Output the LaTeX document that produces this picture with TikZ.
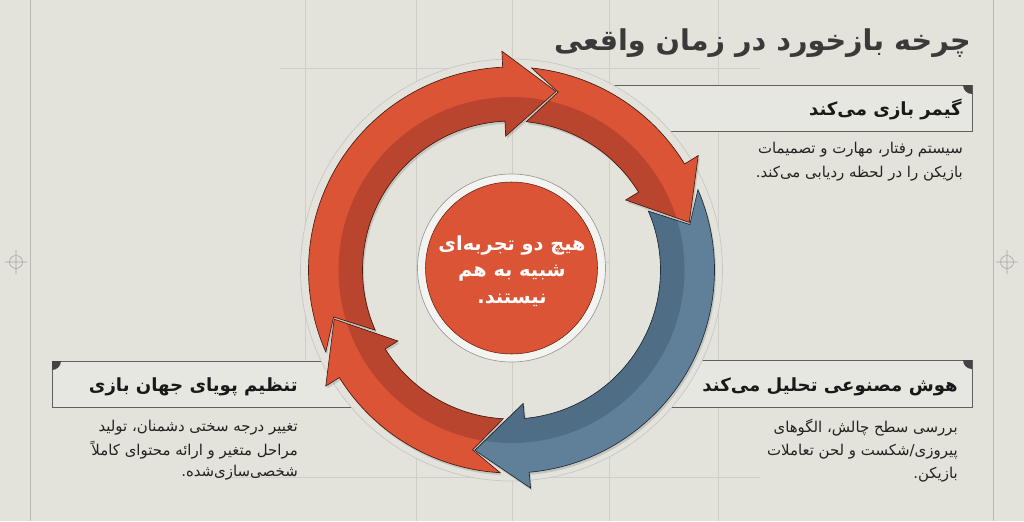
\documentclass[tikz,border=0pt]{standalone}
\usepackage{fontspec}
\newfontfamily\fa[Script=Arabic]{DejaVu Sans}
\TeXXeTstate=1
\definecolor{bg}{HTML}{E3E3DC}
\definecolor{boxfill}{HTML}{E7E7E1}
\definecolor{gridc}{HTML}{CFCFC8}
\definecolor{gridd}{HTML}{B9B9B1}
\definecolor{redL}{HTML}{DA5435}
\definecolor{redD}{HTML}{B9452E}
\definecolor{blueL}{HTML}{60809A}
\definecolor{blueD}{HTML}{4F6D84}
\definecolor{txt}{HTML}{222222}
\definecolor{ttl}{HTML}{3A3A3A}
\definecolor{cornerc}{HTML}{444444}
\newcommand\rOut{203}
\newcommand\rIn{149}
\newcommand\rTip{184}
\newcommand\rFo{219}
\newcommand\rFi{134}
\newcommand\hLen{16.5}
\newcommand\nDep{9}
\newcommand\rDark{173}
\newcommand\arrowpath[2]{(#1:\rOut) arc[start angle=#1, end angle={#2+\hLen}, radius=\rOut] -- ({#2+\hLen}:\rFo) -- (#2:\rTip) -- ({#2+\hLen}:\rFi) -- ({#2+\hLen}:\rIn) arc[start angle={#2+\hLen}, end angle=#1, radius=\rIn] -- ({#1-\nDep}:\rTip) -- cycle}
\newcommand\ringarrow[5]{%
  \fill[black, opacity=0.13, shift={(1.5,-2.5)}] \arrowpath{#1}{#2};
  \fill[#3] \arrowpath{#1}{#2};
  \begin{scope}
    \clip (0,0) circle[radius=\rDark];
    \fill[#4] \arrowpath{#1}{#2};
  \end{scope}
  \draw[#5, line width=0.5pt, line join=miter] \arrowpath{#1}{#2};
}
\tikzset{
  gridline/.style={draw=gridc, line width=0.45pt},
  gridline2/.style={draw=gridd, line width=0.6pt},
  crossmark/.style={draw=gray!70, line width=0.45pt},
  boxline/.style={draw=gray!75!black, line width=0.6pt},
  cornerdot/.style={fill=cornerc},
  desc/.style={font=\fa\fontsize{11.2}{14}\selectfont, text=txt, inner sep=0pt},
  boxtitle/.style={font=\fa\bfseries\fontsize{13.6}{17}\selectfont, text=black!90, inner sep=0pt},
  maintitle/.style={font=\fa\bfseries\fontsize{21.5}{26}\selectfont, text=ttl, inner sep=0pt},
  centertext/.style={font=\fa\bfseries\fontsize{14.5}{18}\selectfont, text=white, inner sep=0pt},
}
\begin{document}
\begin{tikzpicture}[x=0.75pt,y=-0.75pt]
\useasboundingbox (0,0) rectangle (1024,521);
\fill[bg] (0,0) rectangle (1024,521);
% faint construction grid
\draw[gridline] (305,0) -- (305,360);
\foreach \gx in {416,512,609,718} \draw[gridline] (\gx,0) -- (\gx,521);
\draw[gridline2] (30,0) -- (30,521);
\draw[gridline2] (993,0) -- (993,521);
\draw[gridline] (280,68) -- (760,68);
\draw[gridline] (416,262) -- (609,262);
\draw[gridline] (230,477) -- (760,477);
% crosshairs
\draw[crossmark] (16,262) circle[radius=6.5] (5,262) -- (27,262) (16,250) -- (16,274);
\draw[crossmark] (1007,262) circle[radius=6.5] (996,262) -- (1018,262) (1007,250) -- (1007,274);
% text boxes
\fill[boxfill] (575,85) rectangle (972,131);
\draw[boxline] (575,85) -- (972,85) -- (972,131) -- (575,131);
\begin{scope}\clip (575,85) rectangle (972,131); \fill[cornerdot] (972,85) circle[radius=9]; \end{scope}
\fill[boxfill] (640,360) rectangle (972,407);
\draw[boxline] (640,360) -- (972,360) -- (972,407) -- (640,407);
\begin{scope}\clip (640,360) rectangle (972,407); \fill[cornerdot] (972,360) circle[radius=9]; \end{scope}
\fill[boxfill] (52,361) rectangle (385,407);
\draw[boxline] (385,361) -- (52,361) -- (52,407) -- (385,407);
\begin{scope}\clip (52,361) rectangle (385,407); \fill[cornerdot] (52,361) circle[radius=9]; \end{scope}
% ring backdrop
\fill[bg, even odd rule] (511.5,270) circle[radius=211] (511.5,270) circle[radius=148];
\draw[draw=gray!45, line width=0.5pt] (511.5,270) circle[radius=211];
% arrows
\begin{scope}[shift={(511.5,270)}, yscale=-1]
  \ringarrow{203.8}{76}{redL}{redD}{black!60!redD}
  \ringarrow{84.3}{15}{redL}{redD}{black!60!redD}
  \ringarrow{23.3}{-101.5}{blueL}{blueD}{black!60!blueD}
  \ringarrow{-93.2}{-164.5}{redL}{redD}{black!60!redD}
\end{scope}
% centre disc
\fill[white!55!bg] (511.5,268) circle[radius=94];
\draw[gray!80, line width=0.5pt] (511.5,268) circle[radius=94];
\fill[redL] (511.5,268) circle[radius=86];
\draw[black!50!redD, line width=0.4pt] (511.5,268) circle[radius=86];
\node[centertext] (c1) at (512,246) {\beginR هیچ دو تجربه‌ای\endR};
\node[centertext] (c2) at (512,273) {\beginR شبیه به هم\endR};
\node[centertext] (c3) at (512,300) {\beginR نیستند.\endR};
% title
\node[maintitle, anchor=east] (title) at (971,43) {\beginR چرخه بازخورد در زمان واقعی\endR};
% box 1
\node[boxtitle, anchor=east] (t1) at (962,109) {\beginR گیمر بازی می‌کند\endR};
\node[desc, anchor=east] (d1a) at (963,150) {\beginR سیستم رفتار، مهارت و تصمیمات\endR};
\node[desc, anchor=east] (d1b) at (963,174) {\beginR بازیکن را در لحظه ردیابی می‌کند.\endR};
% box 2
\node[boxtitle, anchor=east] (t2) at (958,387) {\beginR هوش مصنوعی تحلیل می‌کند\endR};
\node[desc, anchor=east] (d2a) at (958,428) {\beginR بررسی سطح چالش، الگوهای\endR};
\node[desc, anchor=east] (d2b) at (958,452) {\beginR پیروزی/شکست و لحن تعاملات\endR};
\node[desc, anchor=east] (d2c) at (958,475) {\beginR بازیکن.\endR};
% box 3
\node[boxtitle, anchor=east] (t3) at (298,387) {\beginR تنظیم پویای جهان بازی\endR};
\node[desc, anchor=east] (d3a) at (298,428) {\beginR تغییر درجه سختی دشمنان، تولید\endR};
\node[desc, anchor=east] (d3b) at (298,450) {\beginR مراحل متغیر و ارائه محتوای کاملاً\endR};
\node[desc, anchor=east] (d3c) at (298,473) {\beginR شخصی‌سازی‌شده.\endR};
\end{tikzpicture}
\end{document}
